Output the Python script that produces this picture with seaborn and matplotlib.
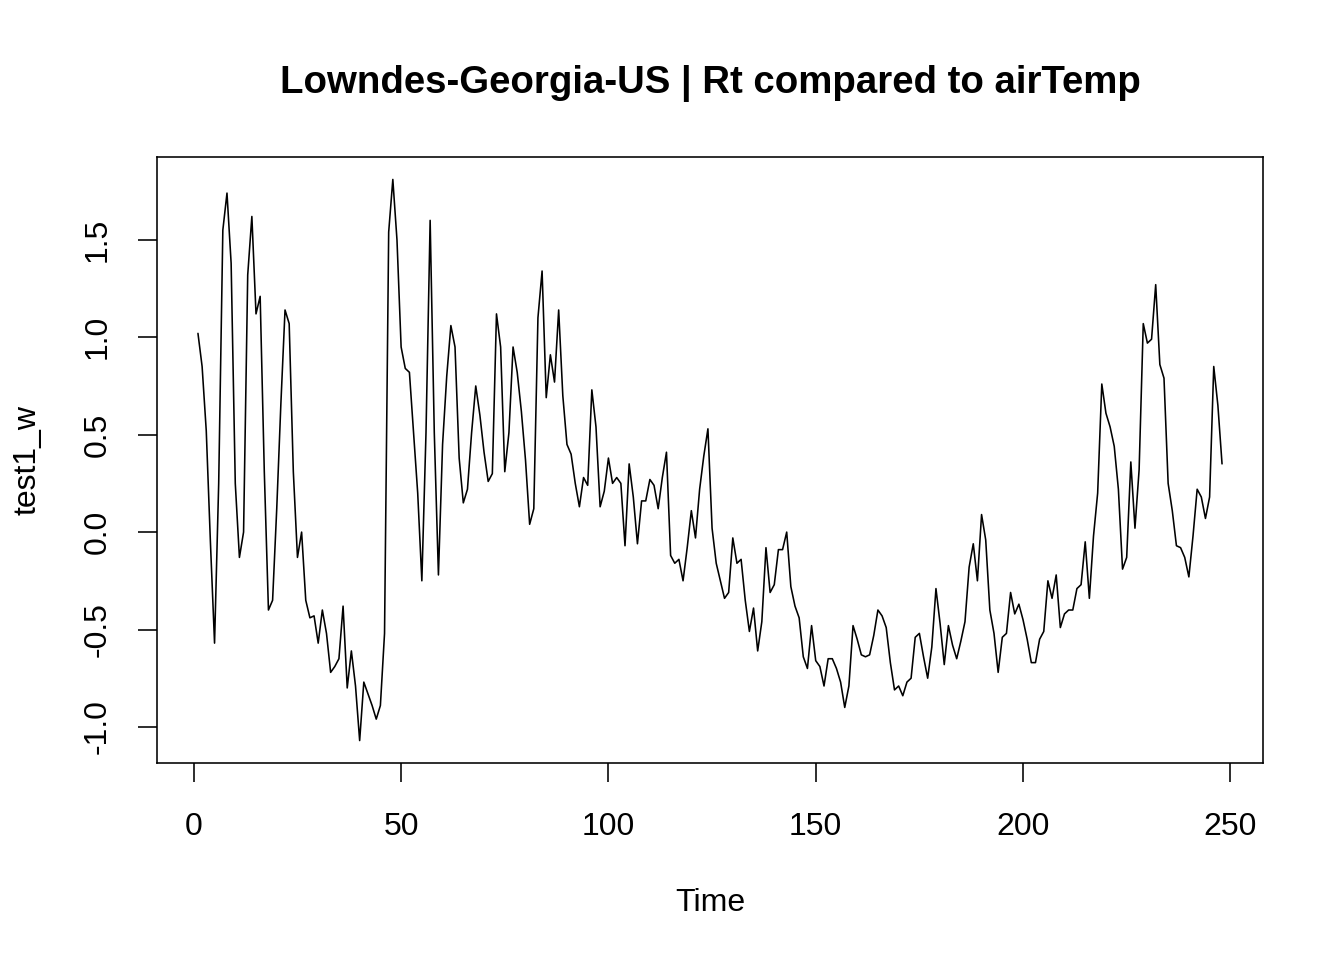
import numpy as np
import pandas as pd
import seaborn as sns
from matplotlib import pyplot as plt

title = "Lowndes-Georgia-US | Rt compared to airTemp"
x_label = "Time"
y_label = "test1_w"

# test1_w, one value per time step (1..248)
test1_w = [
    1.02, 0.85, 0.52, -0.05, -0.57, 0.25, 1.55, 1.74, 1.38, 0.25,
    -0.13, 0.00, 1.32, 1.62, 1.12, 1.21, 0.31, -0.40, -0.35, 0.12,
    0.66, 1.14, 1.07, 0.31, -0.13, 0.00, -0.35, -0.44, -0.43, -0.57,
    -0.40, -0.52, -0.72, -0.69, -0.65, -0.38, -0.80, -0.61, -0.79, -1.07,
    -0.77, -0.83, -0.89, -0.96, -0.89, -0.52, 1.54, 1.81, 1.50, 0.95,
    0.84, 0.82, 0.51, 0.20, -0.25, 0.51, 1.60, 0.51, -0.22, 0.45,
    0.80, 1.06, 0.95, 0.38, 0.15, 0.22, 0.51, 0.75, 0.60, 0.41,
    0.26, 0.30, 1.12, 0.95, 0.31, 0.51, 0.95, 0.82, 0.62, 0.37,
    0.04, 0.12, 1.10, 1.34, 0.69, 0.91, 0.77, 1.14, 0.70, 0.45,
    0.40, 0.25, 0.13, 0.28, 0.24, 0.73, 0.54, 0.13, 0.21, 0.38,
    0.25, 0.28, 0.25, -0.07, 0.35, 0.18, -0.06, 0.16, 0.16, 0.27,
    0.24, 0.12, 0.28, 0.41, -0.12, -0.16, -0.14, -0.25, -0.08, 0.11,
    -0.03, 0.22, 0.39, 0.53, 0.02, -0.16, -0.25, -0.34, -0.31, -0.03,
    -0.16, -0.14, -0.35, -0.51, -0.39, -0.61, -0.46, -0.08, -0.31, -0.27,
    -0.09, -0.09, 0.00, -0.28, -0.38, -0.44, -0.64, -0.70, -0.48, -0.66,
    -0.69, -0.79, -0.65, -0.65, -0.70, -0.77, -0.90, -0.79, -0.48, -0.55,
    -0.63, -0.64, -0.63, -0.53, -0.40, -0.43, -0.49, -0.67, -0.81, -0.79,
    -0.84, -0.77, -0.75, -0.54, -0.52, -0.64, -0.75, -0.59, -0.29, -0.47,
    -0.68, -0.48, -0.58, -0.65, -0.56, -0.46, -0.18, -0.06, -0.25, 0.09,
    -0.04, -0.40, -0.52, -0.72, -0.54, -0.52, -0.31, -0.42, -0.37, -0.45,
    -0.55, -0.67, -0.67, -0.55, -0.51, -0.25, -0.34, -0.22, -0.49, -0.42,
    -0.40, -0.40, -0.29, -0.27, -0.05, -0.34, -0.02, 0.20, 0.76, 0.61,
    0.54, 0.44, 0.22, -0.19, -0.13, 0.36, 0.02, 0.32, 1.07, 0.97,
    0.99, 1.27, 0.86, 0.79, 0.25, 0.11, -0.07, -0.08, -0.13, -0.23,
    -0.02, 0.22, 0.18, 0.07, 0.18, 0.85, 0.65, 0.35,
]
x_ticks = [0, 50, 100, 150, 200, 250]
y_ticks = [-1.0, -0.5, 0.0, 0.5, 1.0, 1.5]

df = pd.DataFrame({"Time": np.arange(1, len(test1_w) + 1), "test1_w": test1_w})

sns.set_theme(style="ticks")
plt.rcParams["font.family"] = ["Liberation Sans", "DejaVu Sans"]
plt.rcParams["text.color"] = "black"
plt.rcParams["axes.labelcolor"] = "black"

fig = plt.figure(figsize=(7, 5), dpi=192)
ax = fig.add_axes([157 / 1344, 1 - 763 / 960, (1263 - 157) / 1344, (763 - 157) / 960])

sns.lineplot(data=df, x="Time", y="test1_w", color="black", linewidth=0.6, ax=ax)

# R style axis ranges: data range padded by 4% on each side
def r_range(v):
    lo, hi = min(v), max(v)
    pad = 0.04 * (hi - lo)
    return lo - pad, hi + pad

ax.set_xlim(*r_range(df["Time"]))
ax.set_ylim(*r_range(df["test1_w"]))

ax.set_xticks(x_ticks)
ax.set_xticklabels([str(t) for t in x_ticks])
ax.set_yticks(y_ticks)
ax.set_yticklabels([f"{t:.1f}" for t in y_ticks], rotation=90, va="center")

for s in ax.spines.values():
    s.set_visible(True)
    s.set_linewidth(0.6)
    s.set_color("black")

ax.tick_params(axis="both", direction="out", length=7.3, width=0.6,
               colors="black", labelsize=12)
ax.tick_params(axis="x", pad=11)
ax.tick_params(axis="y", pad=9.4)

ax.set_xlabel(x_label, fontsize=12, labelpad=17.5, color="black")
ax.set_ylabel(y_label, fontsize=12, labelpad=15, color="black")
ax.set_title(title, fontsize=14.4, fontweight="bold", pad=24, color="black")

fig.savefig("out.png", dpi=192)
